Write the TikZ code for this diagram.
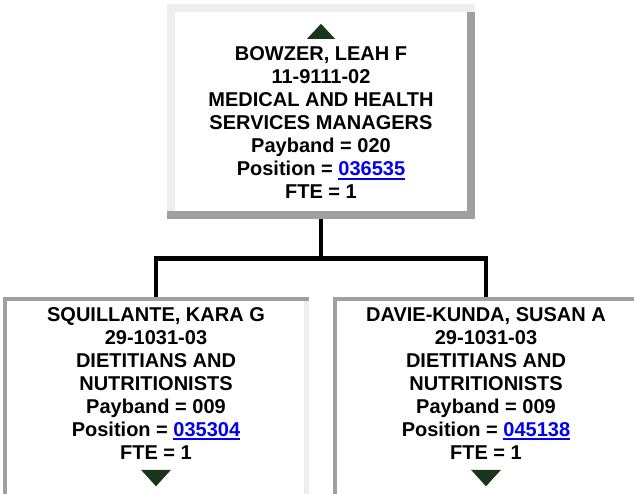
\documentclass[tikz,border=0pt]{standalone}
\usepackage{fontspec}
\setmainfont{Liberation Sans}
\usetikzlibrary{positioning, calc}
\definecolor{bevelLight}{HTML}{EEEEEE}
\definecolor{bevelDark}{HTML}{A0A0A0}
\definecolor{linkBlue}{HTML}{0000EE}
\definecolor{navGreen}{HTML}{1A361A}
\newcommand{\poslink}[1]{\textcolor{linkBlue}{\setbox0\hbox{#1}\rlap{\rule[-3.6pt]{\wd0}{2pt}}\box0}}
\tikzset{
  orgline/.style={line width=4.5pt, black},
  navTri/.style={fill=navGreen},
  raisedBox/.style={rectangle, fill=white, inner sep=0pt,
    path picture={\def\pb{path picture bounding box}
      \fill[bevelLight] (\pb.north west) rectangle ([xshift=8pt]\pb.south west);
      \fill[bevelDark] (\pb.south west) rectangle ([yshift=8pt]\pb.south east);
      \fill[bevelDark] ([yshift=-8pt]\pb.north east) rectangle ([xshift=-8pt]\pb.south east);
      \fill[bevelLight] (\pb.north west) rectangle ([yshift=-8pt]\pb.north east);}},
  sunkenBox/.style={rectangle, fill=white, inner sep=0pt,
    minimum width=306pt, minimum height=223pt,
    path picture={\def\pb{path picture bounding box}
      \fill[bevelLight] ([yshift=-4pt]\pb.north east) rectangle ([xshift=-5pt]\pb.south east);
      \fill[bevelLight] (\pb.south west) rectangle ([yshift=5pt]\pb.south east);
      \fill[bevelDark] (\pb.north west) rectangle ([xshift=4pt]\pb.south west);
      \fill[bevelDark] (\pb.north west) rectangle ([yshift=-4pt]\pb.north east);}},
  cardText/.style={align=center, inner sep=0pt,
    font=\bfseries\fontsize{20pt}{23pt}\selectfont},
}
\begin{document}
\begin{tikzpicture}[x=1pt, y=-1pt]
  \useasboundingbox (0,0) rectangle (634,493);
  \fill[white] (0,0) rectangle (634,493);
  \clip (0,0) rectangle (634,493);
  % manager card
  \node[raisedBox, minimum width=308pt, minimum height=215pt] (mgr) at (321,111.5) {};
  \node[cardText, below=43pt of mgr.north] (mgrTxt)
    {BOWZER, LEAH F\\11-9111-02\\MEDICAL AND HEALTH\\SERVICES MANAGERS\\Payband = 020\\Position = \poslink{036535}\\FTE = 1};
  \fill[navTri] ([yshift=-20pt]mgr.north) -- ++(-14,15) -- ++(28,0) -- cycle;
  % staff cards
  \node[sunkenBox] (squ) at (156,408.5) {};
  \node[sunkenBox] (dav) at (486,408.5) {};
  \node[cardText, below=10.7pt of squ.north] (squTxt)
    {SQUILLANTE, KARA G\\29-1031-03\\DIETITIANS AND\\NUTRITIONISTS\\Payband = 009\\Position = \poslink{035304}\\FTE = 1};
  \node[cardText, below=10.7pt of dav.north] (davTxt)
    {DAVIE-KUNDA, SUSAN A\\29-1031-03\\DIETITIANS AND\\NUTRITIONISTS\\Payband = 009\\Position = \poslink{045138}\\FTE = 1};
  \foreach \c in {squ, dav}
    \fill[navTri] ([yshift=-173pt]\c.north) -- ++(15,0) -- ++(-15,16.5) -- ++(-15,-16.5) -- cycle;
  % connectors
  \coordinate (bus) at (321,258.5);
  \draw[orgline] (mgr.south) -- (bus);
  \draw[orgline] (squ.north) |- (bus) -| (dav.north);
\end{tikzpicture}
\end{document}
